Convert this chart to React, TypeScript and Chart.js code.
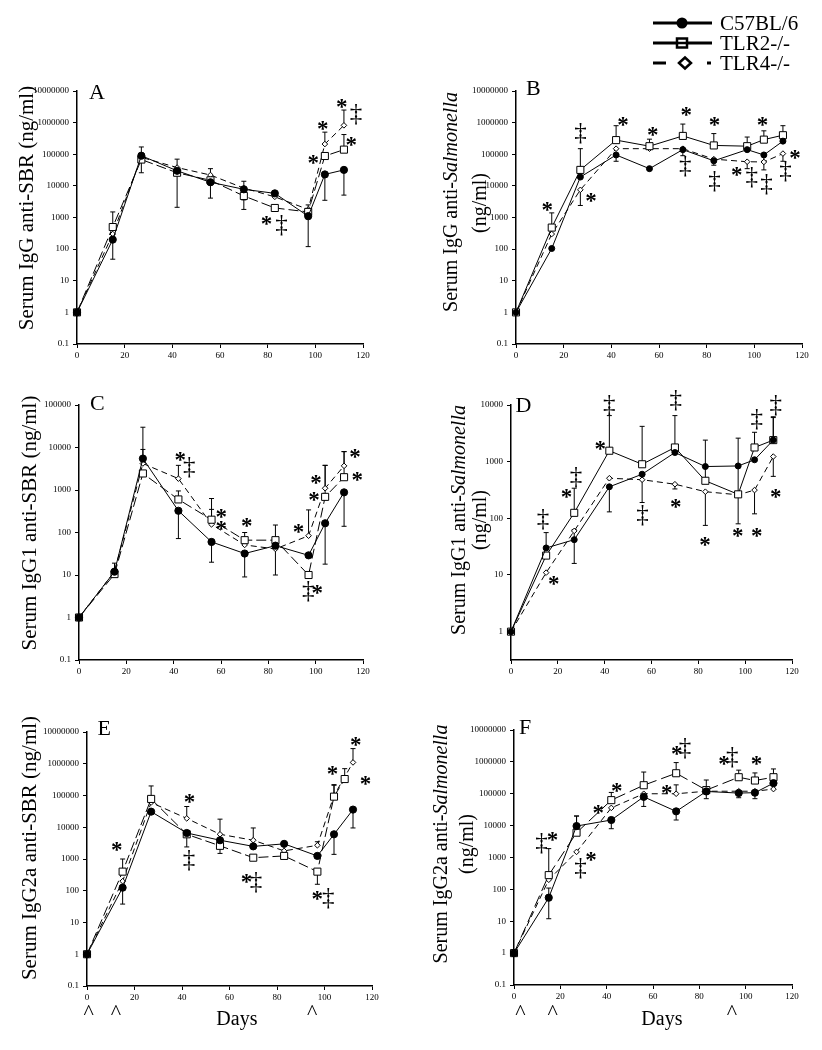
import React, { useEffect, useRef } from 'react';
import { Chart, registerables } from 'chart.js';
Chart.register(...registerables);

const SERIF = '"Liberation Serif", "Times New Roman", Times, serif';
const _ = null;
const STAR = '*';
const DD = '\u2021';

const SERIES = ['C57BL/6', 'TLR2-/-', 'TLR4-/-'];
const yTicks8 = [0.1, 1, 10, 100, 1000, 10000, 100000, 1000000, 10000000];
const yTicksC = [0.1, 1, 10, 100, 1000, 10000, 100000];
const yTicksD = [1, 10, 100, 1000, 10000];

// ---------- Panel A: Serum IgG anti-SBR
const aDays = [0, 15, 27, 42, 56, 70, 83, 97, 104, 112];
const aC57 = [1, 200, 90000, 30000, 13000, 7800, 5800, 1100, 23000, 32000];
const aC57Hi = [_, _, 170000, _, _, _, _, _, _, _];
const aC57Lo = [_, 48, 26000, 2100, 4100, 3600, _, 120, 3500, 5100];
const aTlr2 = [1, 500, 68000, 26000, 15000, 4800, 2000, 1500, 88000, 140000];
const aTlr2Hi = [_, 1500, _, _, _, _, _, _, _, 420000];
const aTlr2Lo = [_, _, _, _, _, 1800, _, _, _, _];
const aTlr4 = [1, 300, 80000, 38000, 22000, 8500, 4500, 1800, 210000, 820000];
const aTlr4Hi = [_, _, _, 70000, 35000, 14000, 6500, 2500, 500000, 2500000];
const aMarks = [[79.4, 780, STAR], [85.7, 540, DD], [99, 66000, STAR], [103, 830000, STAR], [111, 4000000, STAR], [117, 1750000, DD], [115, 260000, STAR]];

// ---------- Panel B: Serum IgG anti-Salmonella
const bDays = [0, 15, 27, 42, 56, 70, 83, 97, 104, 112];
const bC57 = [1, 105, 19000, 95000, 35000, 140000, 62000, 140000, 95000, 260000];
const bC57Hi = [_, _, _, _, _, _, _, _, _, _];
const bC57Lo = [_, _, _, 60000, _, 90000, 45000, _, 60000, _];
const bTlr2 = [1, 480, 32000, 280000, 180000, 380000, 190000, 180000, 290000, 400000];
const bTlr2Hi = [_, 1400, 150000, 800000, 300000, 900000, 450000, 350000, 550000, 800000];
const bTlr2Lo = [_, _, _, _, _, _, _, _, _, _];
const bTlr4 = [1, 300, 7500, 150000, 150000, 150000, 70000, 58000, 57000, 105000];
const bTlr4Hi = [_, _, _, _, _, _, _, _, _, _];
const bTlr4Lo = [_, _, 2400, _, _, _, _, 35000, 32000, 60000];
const bMarks = [[13, 2300, STAR], [27, 460000, DD], [31.4, 4200, STAR], [44.8, 1070000, STAR], [57.3, 510000, STAR], [71.3, 2200000, STAR], [70.9, 41000, DD], [83.2, 1070000, STAR], [83.2, 14000, DD], [92.5, 29000, STAR], [98.8, 18000, DD], [103.3, 1070000, STAR], [105, 11000, DD], [117, 100000, STAR], [113, 29000, DD]];

// ---------- Panel C: Serum IgG1 anti-SBR
const cDays = [0, 15, 27, 42, 56, 70, 83, 97, 104, 112];
const cC57 = [1, 12, 5500, 325, 60, 32, 49, 29, 165, 880];
const cC57Hi = [_, _, 30000, _, _, _, _, _, _, _];
const cC57Lo = [_, _, _, 72, 20, 9, 10, _, 18, 140];
const cTlr2 = [1, 10.5, 2450, 600, 200, 66, 66, 10, 690, 2000];
const cTlr2Hi = [_, _, _, 950, 630, 100, 150, _, 3800, 8000];
const cTlr2Lo = [_, _, _, _, _, _, _, _, _, _];
const cTlr4 = [1, 12, 4200, 1850, 155, 51, 41, 84, 1100, 3700];
const cTlr4Hi = [_, 19, 9000, 3800, 350, _, _, 340, 3800, 8000];
const cMarks = [[42.7, 6000, STAR], [46.5, 3400, DD], [60, 280, STAR], [60, 150, STAR], [70.8, 175, STAR], [92.6, 125, STAR], [96.8, 4, DD], [100.6, 4.6, STAR], [100, 1800, STAR], [99.2, 690, STAR], [116.5, 7300, STAR], [117.5, 2100, STAR]];

// ---------- Panel D: Serum IgG1 anti-Salmonella
const dDays = [0, 15, 27, 42, 56, 70, 83, 97, 104, 112];
const dC57 = [1, 30, 42, 360, 600, 1450, 820, 840, 1080, 2400];
const dC57Hi = [_, 56, 63, _, _, _, _, _, _, 6000];
const dC57Lo = [_, _, 16, 130, 190, _, _, _, _, _];
const dTlr2 = [1, 22, 125, 1560, 900, 1780, 460, 265, 1780, 2400];
const dTlr2Hi = [_, _, 340, 6500, 4200, 6500, 2400, 2600, 3300, 6200];
const dTlr2Lo = [_, _, _, _, _, _, _, _, _, _];
const dTlr4 = [1, 11, 60, 510, 480, 400, 295, 260, 315, 1230];
const dTlr4Hi = [_, _, _, _, _, _, _, _, _, _];
const dTlr4Lo = [_, _, _, _, _, 330, 75, 80, 120, 550];
const dMarks = [[13.6, 95, DD], [18.2, 8, STAR], [23.6, 270, STAR], [27.7, 525, DD], [38, 1900, STAR], [41.9, 10000, DD], [56.1, 110, DD], [70.3, 180, STAR], [70.3, 12000, DD], [82.7, 39, STAR], [96.7, 56, STAR], [104.8, 56, STAR], [104.8, 5500, DD], [113, 270, STAR], [113, 10000, DD]];

// ---------- Panel E: Serum IgG2a anti-SBR
const eDays = [0, 15, 27, 42, 56, 70, 83, 97, 104, 112];
const eTlr2Days = [0, 15, 27, 42, 56, 70, 83, 97, 104, 108.5];
const eC57 = [1, 125, 31000, 6600, 3900, 2500, 3000, 1250, 6000, 36000];
const eC57Hi = [_, _, _, _, _, _, _, _, _, _];
const eC57Lo = [_, 38, _, _, _, _, _, _, 1400, 9500];
const eTlr2 = [1, 400, 78000, 6000, 2600, 1100, 1250, 400, 92000, 330000];
const eTlr2Hi = [_, 1000, 200000, _, _, _, _, _, 210000, 700000];
const eTlr2Lo = [_, _, _, 2400, 1500, _, _, 160, _, _];
const eTlr4 = [1, 200, 60000, 19000, 6000, 3900, 1800, 2700, 100000, 1100000];
const eTlr4Hi = [_, _, _, 45000, 18000, 9500, _, 3500, 220000, 3000000];
const eMarks = [[12.4, 2400, STAR], [43, 80000, STAR], [42.8, 910, DD], [67, 240, STAR], [71, 180, DD], [96.8, 72, STAR], [101.5, 56, DD], [103.3, 620000, STAR], [113.1, 4900000, STAR], [117.2, 300000, STAR]];
const eImmunDays = [0.8, 12.3, 94.9];

// ---------- Panel F: Serum IgG2a anti-Salmonella
const fDays = [0, 15, 27, 42, 56, 70, 83, 97, 104, 112];
const fC57 = [1, 55, 9700, 15000, 80000, 28000, 118000, 105000, 108000, 215000];
const fC57Hi = [_, 110, 20000, _, _, _, _, _, _, _];
const fC57Lo = [_, 12, _, 8000, 40000, 15000, 70000, 75000, 70000, _];
const fTlr2 = [1, 280, 6000, 63000, 185000, 440000, 130000, 330000, 260000, 330000];
const fTlr2Hi = [_, 1900, 20000, 110000, 480000, 950000, 270000, 550000, 450000, 600000];
const fTlr2Lo = [_, _, _, _, _, _, _, _, _, _];
const fTlr4 = [1, 200, 1500, 36000, 100000, 100000, 120000, 120000, 120000, 140000];
const fTlr4Hi = [_, _, _, _, _, 190000, _, _, _, _];
const fMarks = [[11.8, 2700, DD], [16.5, 4500, STAR], [36.3, 31000, STAR], [44.2, 160000, STAR], [33.1, 1100, STAR], [28.6, 460, DD], [65.8, 138000, STAR], [70.1, 2200000, STAR], [73.7, 2600000, DD], [90.5, 1100000, STAR], [94.1, 1400000, DD], [104.6, 1100000, STAR]];
const fImmunDays = [2.9, 16.8, 94.2];

// ---------- layout specs
const panels: any[] = [
  {
    letter: 'A', letterAt: [97, 92], canvas: [0, 50, 410, 320], plot: [77, 91, 363, 344],
    yMin: 0.1, yMax: 10000000, yTicks: yTicks8,
    series: [[aDays, aC57, aC57Hi, aC57Lo], [aDays, aTlr2, aTlr2Hi, aTlr2Lo], [aDays, aTlr4, aTlr4Hi, null]],
    tlr2Dash: [10, 4], circleR: 3.6, marks: aMarks,
    title: { size: 21, lines: [{ segs: [['Serum IgG anti-SBR (ng/ml)', false]], at: [27, 208] }] },
  },
  {
    letter: 'B', letterAt: [533, 88], canvas: [410, 0, 412, 370], plot: [516, 91, 802, 344],
    yMin: 0.1, yMax: 10000000, yTicks: yTicks8,
    series: [[bDays, bC57, bC57Hi, bC57Lo], [bDays, bTlr2, bTlr2Hi, bTlr2Lo], [bDays, bTlr4, bTlr4Hi, bTlr4Lo]],
    tlr2Dash: [], circleR: 3, marks: bMarks, legend: true,
    title: { size: 20, lines: [
      { segs: [['Serum IgG anti-', false], ['Salmonella', true]], at: [452, 202] },
      { segs: [['(ng/ml)', false]], at: [481, 203] }] },
  },
  {
    letter: 'C', letterAt: [97, 403], canvas: [0, 370, 410, 320], plot: [79, 405, 363, 660],
    yMin: 0.1, yMax: 100000, yTicks: yTicksC,
    series: [[cDays, cC57, cC57Hi, cC57Lo], [cDays, cTlr2, cTlr2Hi, cTlr2Lo], [cDays, cTlr4, cTlr4Hi, null]],
    tlr2Dash: [10, 4], circleR: 3.6, marks: cMarks,
    title: { size: 21, lines: [{ segs: [['Serum IgG1 anti-SBR (ng/ml)', false]], at: [30, 523] }] },
  },
  {
    letter: 'D', letterAt: [523, 405], canvas: [410, 370, 412, 320], plot: [511, 405, 792, 660],
    yMin: 0.316, yMax: 10000, yTicks: yTicksD,
    series: [[dDays, dC57, dC57Hi, dC57Lo], [dDays, dTlr2, dTlr2Hi, dTlr2Lo], [dDays, dTlr4, dTlr4Hi, dTlr4Lo]],
    tlr2Dash: [], circleR: 3, marks: dMarks,
    title: { size: 20, lines: [
      { segs: [['Serum IgG1 anti-', false], ['Salmonella', true]], at: [460, 520] },
      { segs: [['(ng/ml)', false]], at: [481, 520] }] },
  },
  {
    letter: 'E', letterAt: [104, 728], canvas: [0, 690, 410, 360], plot: [87, 732, 372, 986],
    yMin: 0.1, yMax: 10000000, yTicks: yTicks8,
    series: [[eDays, eC57, eC57Hi, eC57Lo], [eTlr2Days, eTlr2, eTlr2Hi, eTlr2Lo], [eDays, eTlr4, eTlr4Hi, null]],
    tlr2Dash: [10, 4], circleR: 3.6, marks: eMarks, carets: eImmunDays, caretY: 1010, daysAt: [237, 1020],
    title: { size: 21, lines: [{ segs: [['Serum IgG2a anti-SBR (ng/ml)', false]], at: [30, 848] }] },
  },
  {
    letter: 'F', letterAt: [525, 727], canvas: [410, 690, 412, 360], plot: [514, 730, 792, 985],
    yMin: 0.1, yMax: 10000000, yTicks: yTicks8,
    series: [[fDays, fC57, fC57Hi, fC57Lo], [fDays, fTlr2, fTlr2Hi, fTlr2Lo], [fDays, fTlr4, fTlr4Hi, null]],
    tlr2Dash: [12, 5], circleR: 3.6, marks: fMarks, carets: fImmunDays, caretY: 1010, daysAt: [662, 1020],
    title: { size: 20, lines: [
      { segs: [['Serum IgG2a anti-', false], ['Salmonella', true]], at: [442, 844] },
      { segs: [['(ng/ml)', false]], at: [468, 844] }] },
  },
];

function drawCentered(ctx: CanvasRenderingContext2D, text: string, x: number, y: number, font: string) {
  ctx.font = font;
  ctx.textAlign = 'left';
  ctx.textBaseline = 'alphabetic';
  const m = ctx.measureText(text);
  const asc = m.actualBoundingBoxAscent, desc = m.actualBoundingBoxDescent;
  const l = m.actualBoundingBoxLeft, r = m.actualBoundingBoxRight;
  ctx.fillText(text, x - (r - l) / 2, y + (asc - desc) / 2);
}

function drawLeftMiddle(ctx: CanvasRenderingContext2D, text: string, x: number, y: number, font: string) {
  ctx.font = font;
  ctx.textAlign = 'left';
  ctx.textBaseline = 'alphabetic';
  const m = ctx.measureText(text);
  ctx.fillText(text, x, y + (m.actualBoundingBoxAscent - m.actualBoundingBoxDescent) / 2);
}

function drawRotated(ctx: CanvasRenderingContext2D, segs: any[], cx: number, cy: number, size: number) {
  ctx.save();
  ctx.translate(cx, cy);
  ctx.rotate(-Math.PI / 2);
  ctx.textBaseline = 'middle';
  ctx.textAlign = 'left';
  const fonts = segs.map(([, it]: any) => `${it ? 'italic ' : ''}${size}px ${SERIF}`);
  let total = 0;
  const ws = segs.map(([t]: any, i: number) => {
    ctx.font = fonts[i];
    const w = ctx.measureText(t).width;
    total += w;
    return w;
  });
  let x = -total / 2;
  segs.forEach(([t]: any, i: number) => {
    ctx.font = fonts[i];
    ctx.fillText(t, x, 0);
    x += ws[i];
  });
  ctx.restore();
}

function drawLegend(ctx: CanvasRenderingContext2D, ox: number, oy: number) {
  const rows = [23, 43, 63];
  const x1 = 653 - ox, x2 = 712 - ox, mx = 682 - ox, tx = 720 - ox;
  ctx.save();
  ctx.strokeStyle = '#000';
  ctx.fillStyle = '#000';
  ctx.lineWidth = 3;
  // C57BL/6
  let y = rows[0] - oy;
  ctx.beginPath(); ctx.moveTo(x1, y); ctx.lineTo(x2, y); ctx.stroke();
  ctx.beginPath(); ctx.arc(mx, y, 5.5, 0, Math.PI * 2); ctx.fill();
  // TLR2
  y = rows[1] - oy;
  ctx.beginPath(); ctx.moveTo(x1, y); ctx.lineTo(x2, y); ctx.stroke();
  ctx.fillStyle = '#fff';
  ctx.lineWidth = 2.5;
  ctx.fillRect(mx - 5, y - 4.5, 10, 9);
  ctx.strokeRect(mx - 5, y - 4.5, 10, 9);
  ctx.beginPath(); ctx.moveTo(mx - 5, y); ctx.lineTo(mx + 5, y); ctx.stroke();
  // TLR4
  y = rows[2] - oy;
  ctx.lineWidth = 3;
  ctx.beginPath(); ctx.moveTo(x1, y); ctx.lineTo(666 - ox, y); ctx.stroke();
  ctx.beginPath(); ctx.moveTo(707 - ox, y); ctx.lineTo(711 - ox, y); ctx.stroke();
  ctx.lineWidth = 2.5;
  const dx = 685 - ox;
  ctx.beginPath(); ctx.moveTo(dx - 6, y); ctx.lineTo(dx, y - 5.5); ctx.lineTo(dx + 6, y); ctx.lineTo(dx, y + 5.5); ctx.closePath();
  ctx.fillStyle = '#fff'; ctx.fill(); ctx.stroke();
  ctx.fillStyle = '#000';
  SERIES.forEach((s, i) => drawLeftMiddle(ctx, s, tx, rows[i] - oy, `21px ${SERIF}`));
  ctx.restore();
}

const errorBars = {
  id: 'errorBars',
  beforeDatasetsDraw(chart: any) {
    const ctx = chart.ctx;
    const xs = chart.scales.x, ys = chart.scales.y;
    ctx.save();
    ctx.strokeStyle = '#000';
    ctx.lineWidth = 1;
    ctx.setLineDash([]);
    chart.data.datasets.forEach((ds: any) => {
      ds.data.forEach((p: any, i: number) => {
        const px = xs.getPixelForValue(p.x), py = ys.getPixelForValue(p.y);
        [ds.errHi ? ds.errHi[i] : null, ds.errLo ? ds.errLo[i] : null].forEach((v) => {
          if (v == null) return;
          const ey = ys.getPixelForValue(v);
          ctx.beginPath();
          ctx.moveTo(px, py); ctx.lineTo(px, ey);
          ctx.moveTo(px - 2.5, ey); ctx.lineTo(px + 2.5, ey);
          ctx.stroke();
        });
      });
    });
    ctx.restore();
  },
};

const MARK_FONT: Record<string, string> = {
  [STAR]: `bold 23px ${SERIF}`,
  [DD]: `25px ${SERIF}`,
};

function decorPlugin(spec: any) {
  return {
    id: 'decor',
    afterDraw(chart: any) {
      const ctx: CanvasRenderingContext2D = chart.ctx;
      const [ox, oy] = spec.canvas;
      const xs = chart.scales.x, ys = chart.scales.y;
      ctx.save();
      ctx.fillStyle = '#000';
      spec.marks.forEach(([d, v, t]: any) => {
        drawCentered(ctx, t, xs.getPixelForValue(d), ys.getPixelForValue(v), MARK_FONT[t]);
      });
      drawCentered(ctx, spec.letter, spec.letterAt[0] - ox, spec.letterAt[1] - oy, `22px ${SERIF}`);
      spec.title.lines.forEach((ln: any) => drawRotated(ctx, ln.segs, ln.at[0] - ox, ln.at[1] - oy, spec.title.size));
      if (spec.carets) {
        spec.carets.forEach((d: number) => drawCentered(ctx, '^', xs.getPixelForValue(d), spec.caretY - oy, `22px ${SERIF}`));
      }
      if (spec.daysAt) drawCentered(ctx, 'Days', spec.daysAt[0] - ox, spec.daysAt[1] - oy, `20px ${SERIF}`);
      if (spec.legend) drawLegend(ctx, ox, oy);
      ctx.restore();
    },
  };
}

function buildConfig(spec: any): any {
  const [cx, cy, cw, ch] = spec.canvas;
  const [L, T, R, B] = spec.plot;
  const HX = 18;
  const styles = [
    { borderDash: [], pointStyle: 'circle', pointRadius: spec.circleR, pointBackgroundColor: '#000' },
    { borderDash: spec.tlr2Dash, pointStyle: 'rect', pointRadius: 5, pointBackgroundColor: '#fff' },
    { borderDash: [6, 4], pointStyle: 'rectRot', pointRadius: 2.8, pointBackgroundColor: '#fff' },
  ];
  const datasets = spec.series.map(([days, vals, hi, lo]: any, i: number) => ({
    label: SERIES[i],
    data: vals.map((v: number, k: number) => ({ x: days[k], y: v })),
    errHi: hi,
    errLo: lo,
    borderColor: '#000',
    borderWidth: 1,
    pointBorderColor: '#000',
    pointBorderWidth: 1,
    pointHoverRadius: styles[i].pointRadius,
    clip: false,
    tension: 0,
    fill: false,
    ...styles[i],
  }));
  const font = { family: SERIF, size: 9 };
  return {
    type: 'line',
    data: { datasets },
    options: {
      animation: false,
      responsive: false,
      devicePixelRatio: 1,
      events: [],
      layout: { padding: { left: 0, top: T - cy, right: cx + cw - R, bottom: cy + ch - B - HX } },
      plugins: { legend: { display: false }, tooltip: { enabled: false } },
      scales: {
        x: {
          type: 'linear', min: 0, max: 120,
          ticks: { stepSize: 20, font, color: '#000', padding: 2, maxRotation: 0 },
          grid: { drawOnChartArea: false, drawTicks: true, tickLength: 4, color: '#000' },
          border: { display: true, color: '#000', width: 1.5 },
          afterFit: (s: any) => { s.height = HX; },
        },
        y: {
          type: 'logarithmic', min: spec.yMin, max: spec.yMax, bounds: 'data',
          afterBuildTicks: (s: any) => { s.ticks = spec.yTicks.map((v: number) => ({ value: v })); },
          ticks: { font, color: '#000', padding: 4, autoSkip: false, callback: (v: any) => String(v) },
          grid: { drawOnChartArea: false, drawTicks: true, tickLength: 4, color: '#000' },
          border: { display: true, color: '#000', width: 1.5 },
          afterFit: (s: any) => { s.width = L - cx; },
        },
      },
    },
    plugins: [errorBars, decorPlugin(spec)],
  };
}

function Panel({ spec }: { spec: any }) {
  const ref = useRef<HTMLCanvasElement>(null);
  useEffect(() => {
    const chart = new Chart(ref.current as HTMLCanvasElement, buildConfig(spec));
    return () => chart.destroy();
  }, [spec]);
  const [x, y, w, h] = spec.canvas;
  return (
    <canvas ref={ref} width={w} height={h}
      style={{ position: 'absolute', left: x, top: y, width: w, height: h }} />
  );
}

export default function App() {
  return (
    <div style={{ position: 'absolute', left: 0, top: 0, width: 822, height: 1050, background: '#fff', overflow: 'hidden' }}>
      {panels.map((p) => <Panel key={p.letter} spec={p} />)}
    </div>
  );
}
